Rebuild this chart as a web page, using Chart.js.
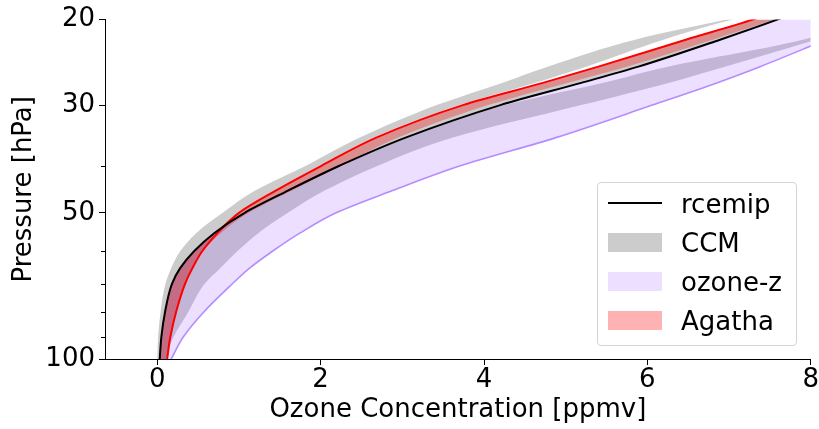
<!DOCTYPE html>
<html>
<head>
<meta charset="utf-8">
<script src="https://cdn.jsdelivr.net/npm/chart.js@4.4.1/dist/chart.umd.min.js"></script>
<style>
  html, body { margin: 0; padding: 0; background: #fff; }
  #wrap { position: relative; width: 819px; height: 429px; overflow: hidden; }
  #chart { display: block; }
  #legendBox { position: absolute; left: 597px; top: 182px; width: 198px; height: 162px;
    border: 1px solid #d4d4d4; border-radius: 4px; background: rgba(255,255,255,0.8); }
  .lg-swatch { position: absolute; left: 608px; width: 54px; }
  .lg-text { position: absolute; left: 681px; font-family: 'DejaVu Sans', sans-serif;
    font-size: 26px; line-height: 26px; color: #000; white-space: nowrap; }
</style>
</head>
<body>
<div id="wrap">
  <canvas id="chart" width="819" height="429"></canvas>
  <div id="legendBox"></div>
</div>
<script>
// Pressure levels (hPa), ordered from the top of the profile downwards
const pressureLevels = [18, 20, 22, 25, 27, 30, 35, 40, 45, 50, 55, 60, 65, 70, 80, 90, 100];

// Ozone mixing ratio (ppmv) at each pressure level
const rcemip      = [8.30, 7.59, 6.89, 5.89, 5.19, 4.20, 3.04, 2.23, 1.60, 1.07, 0.70, 0.45, 0.28, 0.18, 0.095, 0.05, 0.03];
const agatha      = [8.00, 7.29, 6.47, 5.40, 4.72, 3.74, 2.68, 2.01, 1.45, 1.00, 0.74, 0.55, 0.43, 0.34, 0.23, 0.16, 0.12];
const agathaLow   = [8.00, 7.29, 6.47, 5.40, 4.72, 3.74, 2.68, 2.01, 1.45, 1.00, 0.70, 0.45, 0.28, 0.18, 0.095, 0.05, 0.03];
const agathaHigh  = [8.25, 7.55, 6.80, 5.75, 5.02, 4.05, 2.95, 2.25, 1.65, 1.12, 0.78, 0.56, 0.44, 0.35, 0.24, 0.17, 0.13];

// CCM spread, drawn as three overlapping envelopes
const ccmALow     = [8.20, 6.97, 5.85, 4.78, 4.22, 3.42, 2.48, 1.82, 1.20, 0.80, 0.48, 0.28, 0.17, 0.10, 0.04, 0.01, 0.00];
const ccmAHigh    = [8.30, 7.05, 6.20, 5.25, 4.62, 3.70, 2.65, 2.00, 1.45, 1.00, 0.74, 0.55, 0.43, 0.34, 0.23, 0.16, 0.12];
const ccmBLow     = [9.40, 8.60, 7.90, 6.25, 5.45, 4.25, 3.04, 2.23, 1.60, 1.07, 0.70, 0.45, 0.28, 0.18, 0.095, 0.05, 0.03];
const ccmBHigh    = [9.70, 8.90, 8.07, 6.95, 6.26, 5.19, 3.62, 2.70, 2.05, 1.60, 1.24, 0.98, 0.77, 0.58, 0.38, 0.20, 0.10];
const ccmCLow     = [8.00, 7.29, 6.47, 5.40, 4.72, 3.74, 2.68, 2.01, 1.45, 1.00, 0.70, 0.45, 0.28, 0.18, 0.095, 0.05, 0.03];
const ccmCHigh    = [8.30, 7.59, 6.89, 5.89, 5.19, 4.20, 3.04, 2.23, 1.60, 1.07, 0.70, 0.45, 0.28, 0.18, 0.095, 0.05, 0.03];

// ozone-z envelope
const ozoneZLow   = [8.30, 7.59, 6.89, 5.89, 5.19, 4.20, 3.04, 2.23, 1.60, 1.07, 0.70, 0.45, 0.28, 0.18, 0.095, 0.05, 0.03];
const ozoneZHigh  = [9.50, 8.80, 8.19, 7.38, 6.85, 6.06, 4.88, 3.71, 2.88, 2.19, 1.75, 1.41, 1.13, 0.92, 0.57, 0.32, 0.17];

// Axis ticks
const xTickValues = [0, 2, 4, 6, 8];
const yTickValues = [20, 30, 50, 100];
const yMinorTickValues = [40, 60, 70, 80, 90];

// Legend entries
const legendNames = ['rcemip', 'CCM', 'ozone-z', 'Agatha'];

const COLORS = {
  rcemip: '#000000',
  agatha: '#ff0000',
  agathaFill: 'rgba(255,0,0,0.3)',
  ccmFill: 'rgba(128,128,128,0.4)',
  ozoneFill: 'rgba(150,80,255,0.18)',
  ozoneLine: '#b48cff'
};

const FONT = "'DejaVu Sans', sans-serif";
Chart.defaults.font.family = FONT;
Chart.defaults.font.size = 26;
Chart.defaults.color = '#000';

function points(values) {
  return values.map((v, i) => ({ x: v, y: pressureLevels[i] }));
}

function bandEdge(label, values, fillColor, order) {
  return {
    label, data: points(values), order,
    borderWidth: 0, borderColor: 'rgba(0,0,0,0)', pointRadius: 0,
    fill: fillColor ? '+1' : false, backgroundColor: fillColor || 'rgba(0,0,0,0)'
  };
}

const datasets = [
  bandEdge('CCM a', ccmALow, COLORS.ccmFill, 7),           // 0
  bandEdge('CCM a edge', ccmAHigh, null, 9),                // 1
  bandEdge('CCM b', ccmBLow, COLORS.ccmFill, 6),           // 2
  bandEdge('CCM b edge', ccmBHigh, null, 9),                // 3
  bandEdge('CCM c', ccmCLow, COLORS.ccmFill, 5),           // 4
  bandEdge('CCM c edge', ccmCHigh, null, 9),                // 5
  bandEdge('ozone-z', ozoneZLow, COLORS.ozoneFill, 4),     // 6
  { label: 'ozone-z edge', data: points(ozoneZHigh), order: 2,
    borderColor: COLORS.ozoneLine, borderWidth: 1.6, pointRadius: 0, fill: false }, // 7
  bandEdge('Agatha range', agathaLow, COLORS.agathaFill, 3), // 8
  bandEdge('Agatha range edge', agathaHigh, null, 9),       // 9
  { label: 'rcemip', data: points(rcemip), order: 0,
    borderColor: COLORS.rcemip, borderWidth: 2, pointRadius: 0, fill: false },   // 10
  { label: 'Agatha', data: points(agatha), order: 1,
    borderColor: COLORS.agatha, borderWidth: 2, pointRadius: 0, fill: false }    // 11
];

// Short minor ticks on the pressure axis
const minorTickPlugin = {
  id: 'minorTicks',
  afterDraw(chart) {
    const s = chart.scales.y;
    const ctx = chart.ctx;
    ctx.save();
    ctx.strokeStyle = '#000';
    ctx.lineWidth = 1;
    yMinorTickValues.forEach(v => {
      const py = Math.round(s.getPixelForValue(v)) + 0.5;
      ctx.beginPath();
      ctx.moveTo(s.right - 4, py);
      ctx.lineTo(s.right, py);
      ctx.stroke();
    });
    ctx.restore();
  }
};

new Chart(document.getElementById('chart'), {
  type: 'line',
  data: { datasets },
  plugins: [minorTickPlugin],
  options: {
    responsive: false,
    animation: false,
    indexAxis: 'y',
    layout: { padding: { top: 16, right: 8, left: 0, bottom: 0 } },
    elements: { line: { cubicInterpolationMode: 'monotone' } },
    plugins: { legend: { display: false }, tooltip: { enabled: false } },
    scales: {
      x: {
        type: 'linear', min: -0.64, max: 8,
        afterBuildTicks: s => { s.ticks = xTickValues.map(v => ({ value: v })); },
        afterFit: s => { s.height = 70; },
        grid: { drawOnChartArea: false, drawTicks: true, tickLength: 6, tickColor: '#000', tickWidth: 1 },
        border: { display: true, color: '#000', width: 1 },
        ticks: { color: '#000', padding: 0, maxRotation: 0, autoSkip: false, callback: v => String(v) },
        title: { display: true, text: 'Ozone Concentration [ppmv]', color: '#000', padding: { top: 0, bottom: 3 } }
      },
      y: {
        type: 'logarithmic', min: 20, max: 100, reverse: true,
        afterBuildTicks: s => { s.ticks = yTickValues.map(v => ({ value: v })); },
        afterFit: s => { s.width = 105; },
        grid: { drawOnChartArea: false, drawTicks: true, tickLength: 6, tickColor: '#000', tickWidth: 1 },
        border: { display: true, color: '#000', width: 1 },
        ticks: { color: '#000', padding: 4, autoSkip: false, callback: v => String(v) },
        title: { display: true, text: 'Pressure [hPa]', color: '#000', padding: { top: 9, bottom: 0 } }
      }
    }
  }
});

// Legend rows
(function buildLegend() {
  const wrap = document.getElementById('wrap');
  const baselines = [212.5, 251.8, 291.1, 330.4];
  const swatches = [
    { kind: 'line', color: COLORS.rcemip },
    { kind: 'patch', color: COLORS.ccmFill },
    { kind: 'patch', color: COLORS.ozoneFill },
    { kind: 'patch', color: COLORS.agathaFill }
  ];
  legendNames.forEach((name, i) => {
    const center = baselines[i] - 9.5;
    const sw = document.createElement('div');
    sw.className = 'lg-swatch';
    if (swatches[i].kind === 'line') {
      sw.style.top = (center - 1) + 'px';
      sw.style.height = '2px';
    } else {
      sw.style.top = (center - 9.5) + 'px';
      sw.style.height = '19px';
    }
    sw.style.background = swatches[i].color;
    wrap.appendChild(sw);
    const tx = document.createElement('div');
    tx.className = 'lg-text';
    tx.style.top = (baselines[i] - 22) + 'px';
    tx.textContent = name;
    wrap.appendChild(tx);
  });
})();
</script>
</body>
</html>
